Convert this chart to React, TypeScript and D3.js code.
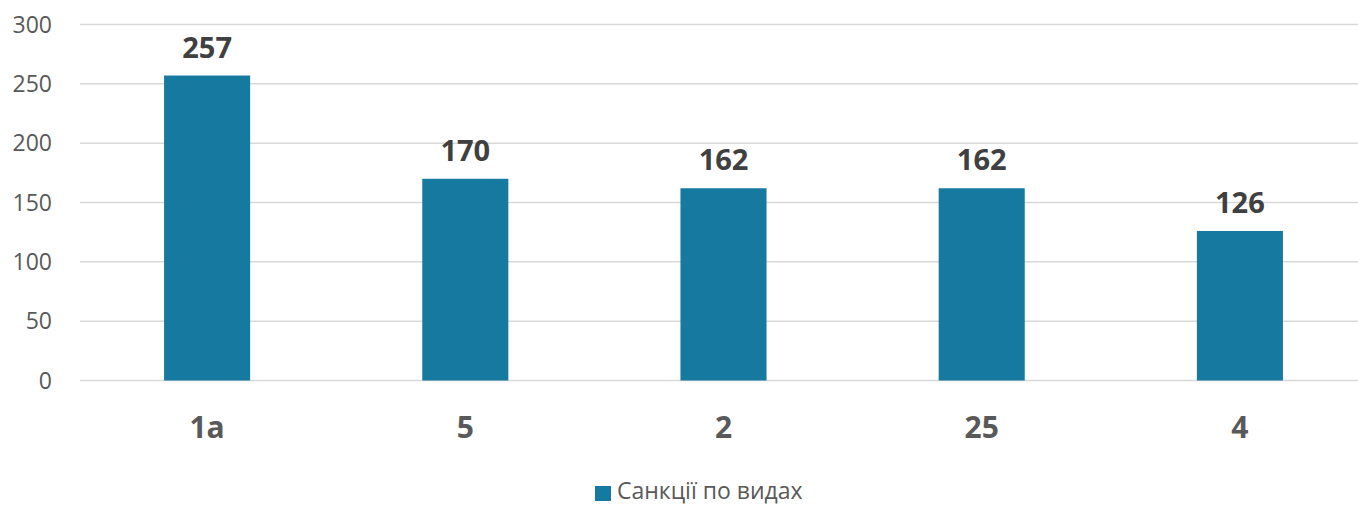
import React, { useEffect, useRef } from 'react';
import * as d3 from 'd3';

// categories and values
const categories = ['1a', '5', '2', '25', '4'];
const values = [257, 170, 162, 162, 126];
const yTicks = [0, 50, 100, 150, 200, 250, 300];
const seriesName = 'Санкції по видах';

const WIDTH = 1358;
const HEIGHT = 505;
const FONT = '"Open Sans", "Noto Sans", sans-serif';
const BAR_COLOR = '#1679a0';

const App: React.FC = () => {
  const svgRef = useRef<SVGSVGElement>(null);

  useEffect(() => {
    if (!svgRef.current) {return;}
    const svg = d3.select(svgRef.current);
    svg.selectAll('*').remove();

    // plot area runs past the right edge (original was cropped)
    const x = d3.scaleBand<string>()
      .domain(categories)
      .range([78, 1369])
      .paddingInner(2 / 3)
      .paddingOuter(1 / 3);

    const y = d3.scaleLinear()
      .domain([0, 300])
      .range([380.5, 24.5]);

    // gridlines
    svg.append('g')
      .selectAll('line')
      .data(yTicks)
      .enter()
      .append('line')
      .attr('x1', 80)
      .attr('x2', WIDTH)
      .attr('y1', d => y(d))
      .attr('y2', d => y(d))
      .attr('stroke', '#d9d9d9')
      .attr('stroke-width', 1.5);

    // y tick labels
    svg.append('g')
      .selectAll('text')
      .data(yTicks)
      .enter()
      .append('text')
      .attr('x', 52)
      .attr('y', d => y(d))
      .attr('dy', '0.36em')
      .attr('text-anchor', 'end')
      .attr('font-family', FONT)
      .attr('font-size', 23)
      .attr('fill', '#595959')
      .text(d => d);

    // bars
    svg.append('g')
      .selectAll('rect')
      .data(values)
      .enter()
      .append('rect')
      .attr('x', (d, i) => x(categories[i]) || 0)
      .attr('width', x.bandwidth())
      .attr('y', d => y(d))
      .attr('height', d => y(0) - y(d))
      .attr('fill', BAR_COLOR);

    // value labels
    svg.append('g')
      .selectAll('text')
      .data(values)
      .enter()
      .append('text')
      .attr('x', (d, i) => (x(categories[i]) || 0) + x.bandwidth() / 2)
      .attr('y', d => y(d) - 18)
      .attr('text-anchor', 'middle')
      .attr('font-family', FONT)
      .attr('font-weight', 'bold')
      .attr('font-size', 29)
      .attr('fill', '#404040')
      .text(d => d);

    // category labels
    svg.append('g')
      .selectAll('text')
      .data(categories)
      .enter()
      .append('text')
      .attr('x', d => (x(d) || 0) + x.bandwidth() / 2)
      .attr('y', 438)
      .attr('text-anchor', 'middle')
      .attr('font-family', FONT)
      .attr('font-weight', 'bold')
      .attr('font-size', 30)
      .attr('fill', '#595959')
      .text(d => d);

    // legend
    const legend = svg.append('g');
    legend.append('rect')
      .attr('x', 595)
      .attr('y', 486)
      .attr('width', 16)
      .attr('height', 15)
      .attr('fill', BAR_COLOR);
    legend.append('text')
      .attr('x', 617)
      .attr('y', 499)
      .attr('font-family', FONT)
      .attr('font-size', 23)
      .attr('fill', '#595959')
      .text(seriesName);
  }, []);

  return (
    <svg
      ref={svgRef}
      width={WIDTH}
      height={HEIGHT}
      style={{ position: 'fixed', left: 0, top: 0, background: '#fff' }}
    />
  );
};

export default App;
